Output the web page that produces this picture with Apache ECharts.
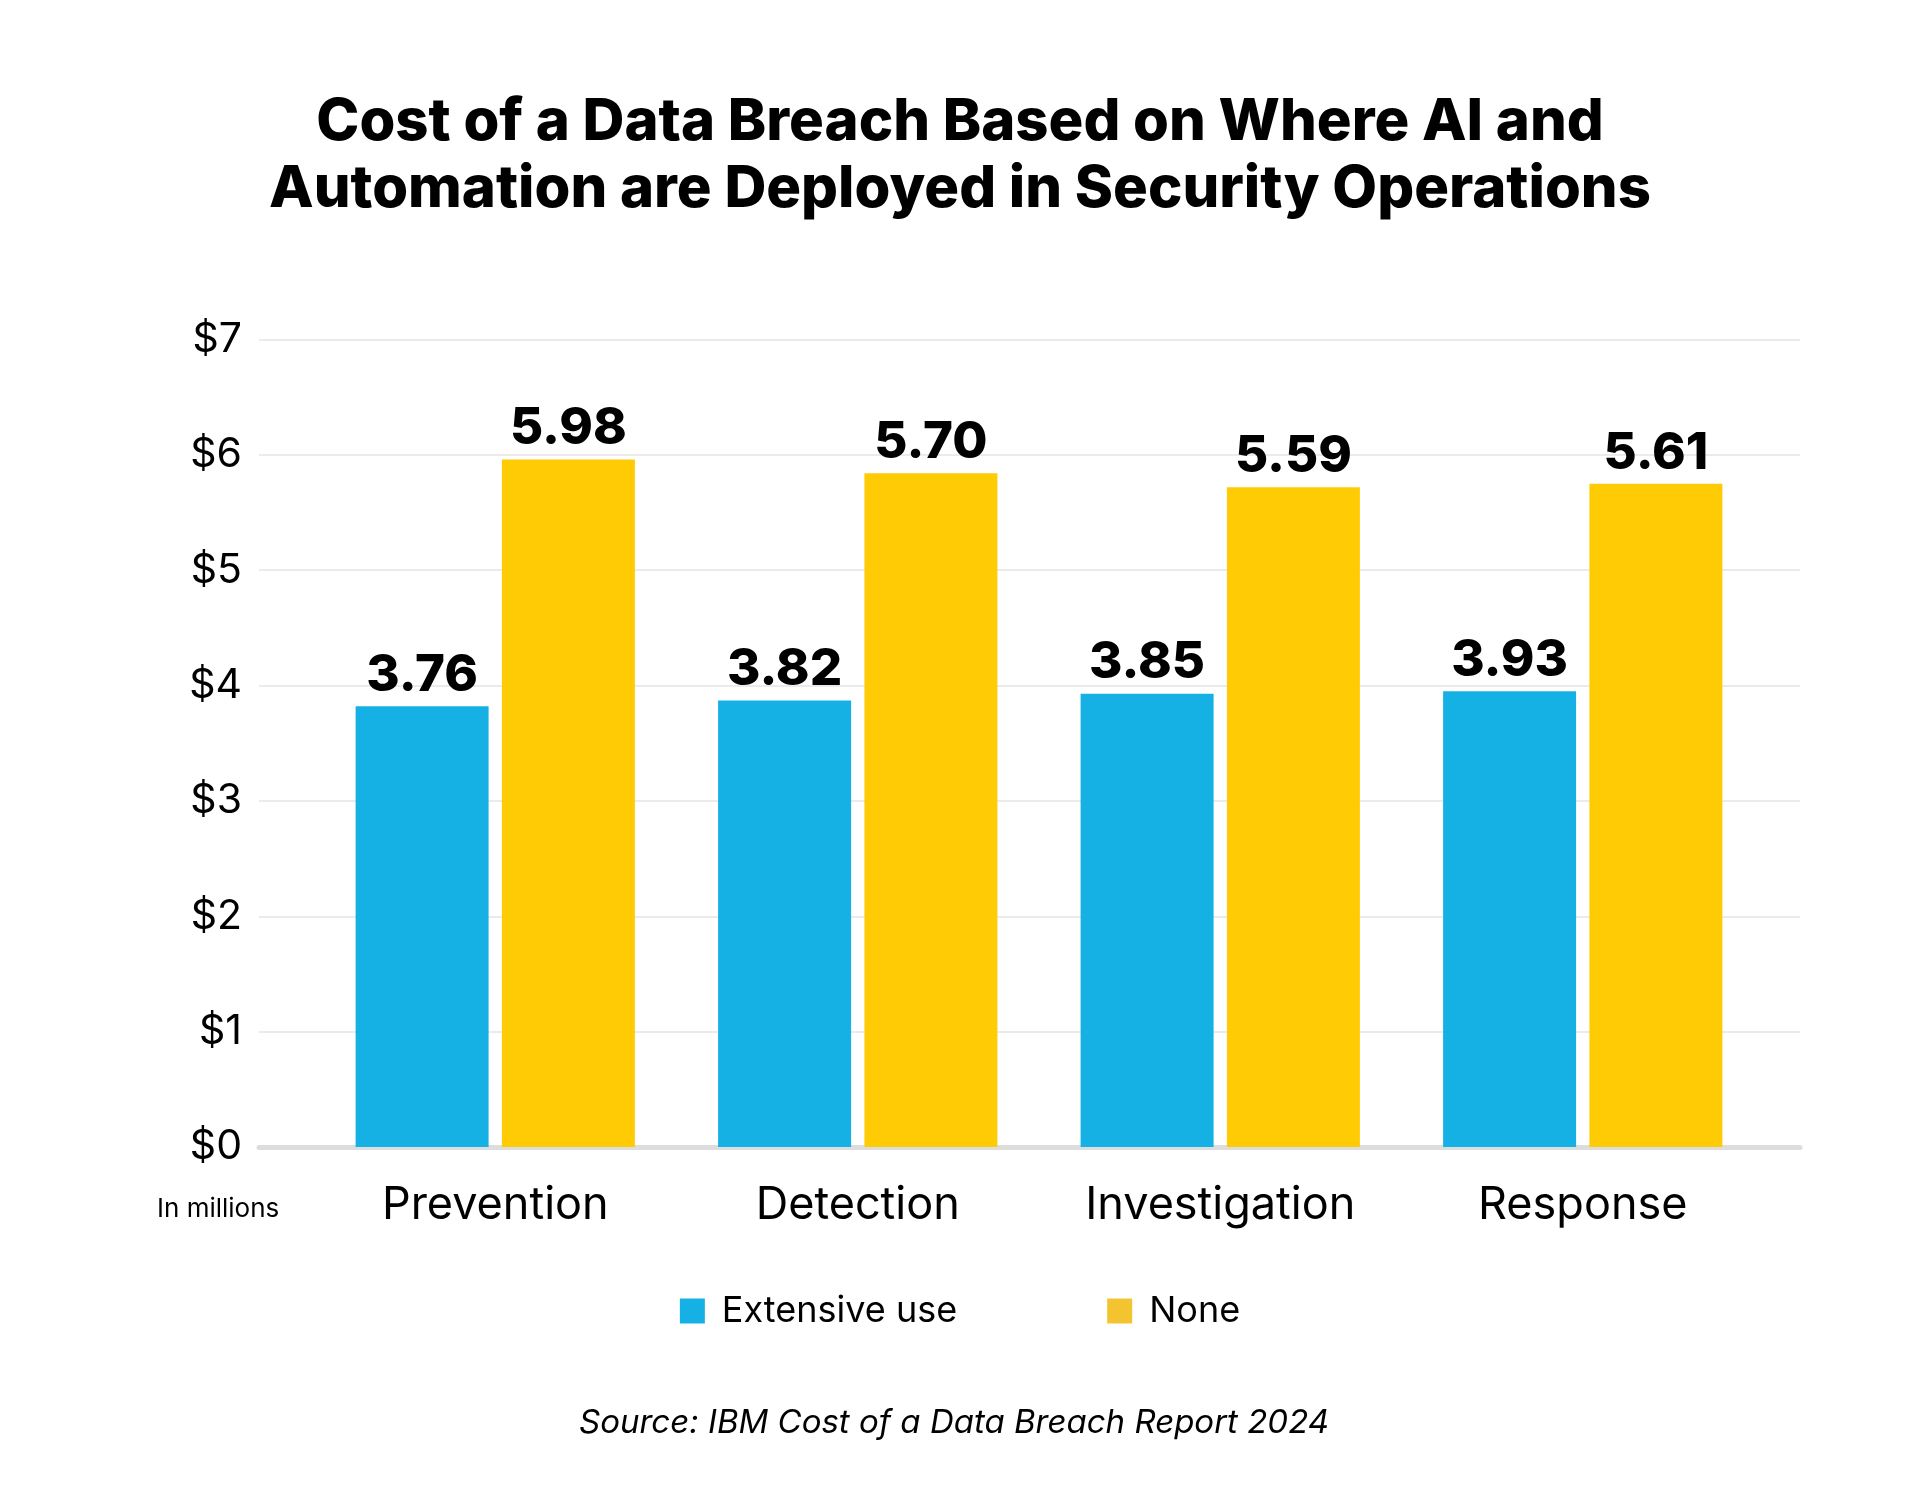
<!DOCTYPE html>
<html>
<head>
<meta charset="utf-8">
<title>Cost of a Data Breach by AI deployment</title>
<script src="https://cdn.jsdelivr.net/npm/echarts@6/dist/echarts.min.js"></script>
<style>
  html, body { margin: 0; padding: 0; background: #fff; }
  #chart { width: 1920px; height: 1488px; }
</style>
</head>
<body>
<div id="chart"></div>
<script>
// data
var categories = ['Prevention', 'Detection', 'Investigation', 'Response']
var seriesNames = ['Extensive use', 'None']
// bar heights as drawn (in $ millions)
var extensiveValues = [3.82, 3.87, 3.93, 3.95]
var noneValues = [5.96, 5.84, 5.72, 5.75]
// printed value labels
var extensiveLabels = ['3.76', '3.82', '3.85', '3.93']
var noneLabels = ['5.98', '5.70', '5.59', '5.61']
var yTicks = [0, 1, 2, 3, 4, 5, 6, 7]

var font = 'Inter, Roboto, sans-serif'
var blue = '#16b1e4'
var yellow = '#ffcb05'

var chart = echarts.init(document.getElementById('chart'))

function barLabel(labels) {
  return {
    show: true,
    position: 'top',
    distance: 5,
    color: '#000',
    fontFamily: font,
    fontSize: 51,
    fontWeight: 800,
    formatter: function (p) { return labels[p.dataIndex] }
  }
}

var option = {
  backgroundColor: '#fff',
  title: [{
    text: 'Cost of a Data Breach Based on Where AI and\nAutomation are Deployed in Security Operations',
    left: 'center',
    top: 84,
    textStyle: {
      fontFamily: font,
      fontSize: 58,
      fontWeight: 800,
      lineHeight: 67,
      color: '#000'
    }
  }, {
    text: 'Source: IBM Cost of a Data Breach Report 2024',
    left: 574,
    top: 1402,
    textStyle: {
      fontFamily: font,
      fontSize: 33,
      fontStyle: 'italic',
      fontWeight: 'normal',
      color: '#000'
    }
  }],
  legend: {
    top: 1288,
    left: 'center',
    icon: 'rect',
    itemWidth: 25,
    itemHeight: 25,
    itemGap: 150,
    textStyle: {
      fontFamily: font,
      fontSize: 36,
      color: '#000',
      padding: [0, 0, 0, 12]
    },
    data: [
      { name: seriesNames[0], itemStyle: { color: blue } },
      { name: seriesNames[1], itemStyle: { color: '#f4c430' } }
    ]
  },
  graphic: [{
    type: 'text',
    left: 157,
    top: 1196,
    style: {
      text: 'In millions',
      fontFamily: font,
      fontSize: 26,
      fill: '#000'
    }
  }],
  grid: [
    { left: 259, right: 120, top: 339.5, bottom: 341 },
    { left: 314, right: 156, top: 339.5, bottom: 341 }
  ],
  xAxis: [{
    type: 'category',
    gridIndex: 0,
    data: categories,
    axisTick: { show: false },
    axisLabel: { show: false },
    axisLine: { lineStyle: { color: '#dddddd', width: 5 } }
  }, {
    type: 'category',
    gridIndex: 1,
    data: categories,
    axisTick: { show: false },
    axisLine: { show: false },
    axisLabel: {
      margin: 36,
      fontFamily: font,
      fontSize: 45,
      lineHeight: 45,
      color: '#000'
    }
  }],
  yAxis: [{
    type: 'value',
    gridIndex: 0,
    min: yTicks[0],
    max: yTicks[yTicks.length - 1],
    interval: 1,
    axisLine: { show: false },
    axisTick: { show: false },
    axisLabel: {
      margin: 17,
      fontFamily: font,
      fontSize: 41,
      color: '#000',
      formatter: function (v) { return '$' + v }
    },
    splitLine: { lineStyle: { color: '#ebebeb', width: 2 } }
  }, {
    type: 'value',
    gridIndex: 1,
    min: yTicks[0],
    max: yTicks[yTicks.length - 1],
    interval: 1,
    show: false,
    splitLine: { show: false }
  }],
  series: [{
    name: seriesNames[0],
    type: 'bar',
    xAxisIndex: 1,
    yAxisIndex: 1,
    data: extensiveValues,
    barWidth: 133,
    barGap: '10%',
    itemStyle: { color: blue },
    label: barLabel(extensiveLabels)
  }, {
    name: seriesNames[1],
    type: 'bar',
    xAxisIndex: 1,
    yAxisIndex: 1,
    data: noneValues,
    barWidth: 133,
    barGap: '10%',
    itemStyle: { color: yellow },
    label: barLabel(noneLabels)
  }]
}

chart.setOption(option)
</script>
</body>
</html>
